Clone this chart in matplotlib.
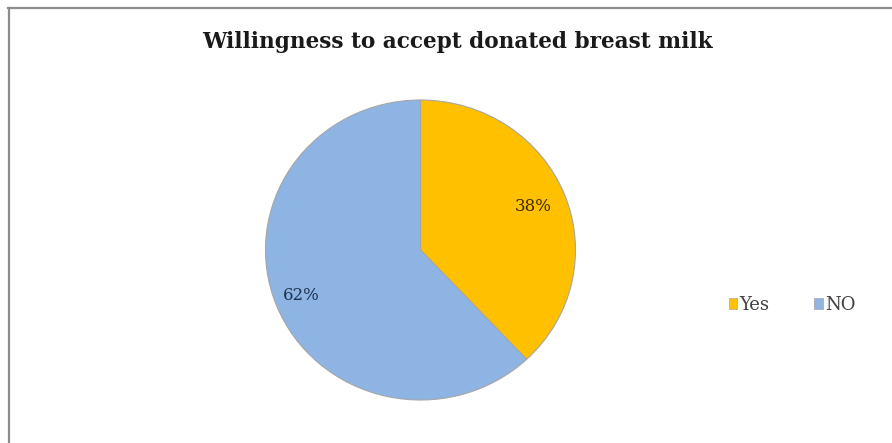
import matplotlib
matplotlib.use("Agg")
import matplotlib.pyplot as plt
from matplotlib.patches import Patch
from matplotlib.lines import Line2D
import numpy as np

categories = ["Yes", "NO"]
values = [38, 62]
labels_pct = ["38%", "62%"]
colors = ["#FFC000", "#8EB4E3"]
title = "Willingness to accept donated breast milk"

W, H = 892, 443
fig = plt.figure(figsize=(W / 100, H / 100), dpi=100)
fig.patch.set_facecolor("white")

# frame lines (top and left)
fig.add_artist(Line2D([8 / W, 1.0], [1 - 8 / H, 1 - 8 / H], color="#8c8c8c", lw=1.6, transform=fig.transFigure))
fig.add_artist(Line2D([9 / W, 9 / W], [0, 1 - 8 / H], color="#8c8c8c", lw=1.6, transform=fig.transFigure))

cx, cy, rx, ry = 420.5, 250, 155, 150
ax = fig.add_axes([(cx - rx) / W, (H - cy - ry) / H, 2 * rx / W, 2 * ry / H])
wedges, _ = ax.pie(values, colors=colors, startangle=90, counterclock=False,
                   radius=1.0, wedgeprops=dict(edgecolor="#a6a6a6", linewidth=0.8))
ax.set_xlim(-1, 1)
ax.set_ylim(-1, 1)
ax.set_aspect("auto")
ax.axis("off")

# percentage labels
label_r = [0.78, 0.83]
label_colors = ["#3a2a00", "#1f3350"]
start = 90
for i, v in enumerate(values):
    mid = start - v / 100 * 360 / 2
    start -= v / 100 * 360
    x = label_r[i] * np.cos(np.radians(mid))
    y = label_r[i] * np.sin(np.radians(mid))
    ax.text(x, y, labels_pct[i], ha="center", va="center", fontsize=12,
            family="DejaVu Serif", color=label_colors[i])

fig.text(457 / W, 1 - 42 / H, title, ha="center", va="center", fontsize=15.6,
         fontweight="bold", family="DejaVu Serif", color="#1a1a1a")

handles = [Patch(facecolor=c, edgecolor="#a6a6a6", linewidth=0.5) for c in colors]
fig.legend(handles, categories, loc="center left", bbox_to_anchor=(729 / W, 1 - 305 / H),
           ncol=2, frameon=False, borderpad=0, borderaxespad=0,
           prop={"family": "DejaVu Serif", "size": 13},
           labelcolor="#404040",
           handlelength=0.45, handleheight=0.5, handletextpad=0.12, columnspacing=2.5)

fig.savefig("out.png", dpi=100)
